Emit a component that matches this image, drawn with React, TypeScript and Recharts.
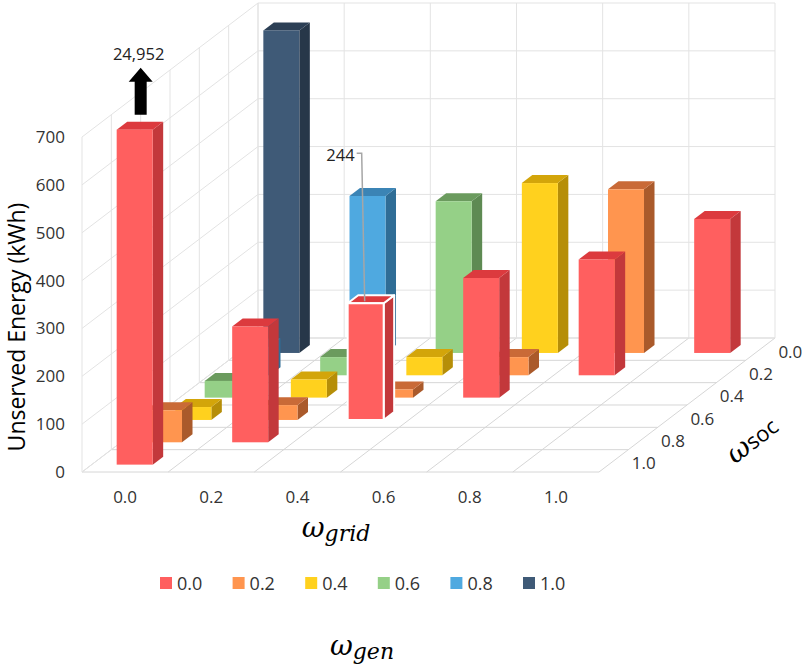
import { Bar, ComposedChart, Label, Legend, ReferenceDot, ReferenceLine, XAxis, YAxis } from 'recharts'

// ω_grid categories (front axis), ω_SOC levels (depth axis), ω_gen levels (colour series)
const GRID_LEVELS = ['0.0', '0.2', '0.4', '0.6', '0.8', '1.0']
const SOC_LEVELS = ['0.0', '0.2', '0.4', '0.6', '0.8', '1.0']
const GEN_LEVELS = ['0.0', '0.2', '0.4', '0.6', '0.8', '1.0']

// unserved energy (kWh) per ω_gen series, indexed by ω_grid; ω_SOC = 1 - ω_grid - ω_gen
const GEN_00 = [24952, 242, 244, 250, 242, 280]
const GEN_02 = [67, 31, 17, 38, 342]
const GEN_04 = [27, 38, 38, 355]
const GEN_06 = [35, 38, 317]
const GEN_08 = [60, 328]
const GEN_10 = [674]
const SERIES = [GEN_00, GEN_02, GEN_04, GEN_06, GEN_08, GEN_10]

const Y_TICKS = [0, 100, 200, 300, 400, 500, 600, 700]
const Y_CAP = 700
// bar with a value call-out (ω_gen 0.0, ω_grid 0.4)
const CALLOUT_GEN = 0
const CALLOUT_GRID = 2

const COLORS = [
  { front: '#ff5f5f', top: '#dc3a3e', side: '#c3383b' },
  { front: '#ff954f', top: '#c96a37', side: '#aa5a2b' },
  { front: '#ffd11e', top: '#d3a50a', side: '#b68e08' },
  { front: '#95d087', top: '#6b9b5e', side: '#5e8a53' },
  { front: '#4fa9e0', top: '#3b84b5', side: '#2f6d96' },
  { front: '#3f5a77', top: '#2c3f55', side: '#273749' },
]

// oblique projection: one depth row moves this much in column / kWh units
const COLS = GRID_LEVELS.length
const ROWS = SOC_LEVELS.length
const ROW_DX = 0.3404
const ROW_DY = 46.67
const X_MAX = COLS + ROWS * ROW_DX
const Y_MAX = Y_CAP + ROWS * ROW_DY
const BAR_FRONT = 0.33
const BAR_W = 36
const BAR_DX = 10.5
const BAR_DY = 8

const FONT = '"Open Sans", sans-serif'
const MATH = '"DejaVu Serif", serif'
const TEXT = '#333333'

const proj = (col: number, depth: number, val: number) => ({
  x: col + depth * ROW_DX,
  y: val + depth * ROW_DY,
})

const data = GRID_LEVELS.map((g, gi) => ({ grid: g, gi, pos: gi + 0.5 }))

// floor, back wall and left wall grid lines
const segments: { a: { x: number; y: number }; b: { x: number; y: number }; floor: boolean }[] = []
for (let k = 0; k <= ROWS; k++) segments.push({ a: proj(0, k, 0), b: proj(COLS, k, 0), floor: true })
for (let c = 0; c <= COLS; c++) segments.push({ a: proj(c, 0, 0), b: proj(c, ROWS, 0), floor: true })
Y_TICKS.forEach((v) => {
  segments.push({ a: proj(0, ROWS, v), b: proj(COLS, ROWS, v), floor: false })
  segments.push({ a: proj(0, 0, v), b: proj(0, ROWS, v), floor: false })
})
for (let c = 0; c <= COLS; c++) segments.push({ a: proj(c, ROWS, 0), b: proj(c, ROWS, Y_CAP), floor: false })
for (let k = 0; k <= ROWS; k++) segments.push({ a: proj(0, k, 0), b: proj(0, k, Y_CAP), floor: false })

// rows drawn back (ω_SOC 0.0) to front (ω_SOC 1.0); row index counts from the front
const DEPTH_ORDER = [5, 4, 3, 2, 1, 0]

function valueAt(row: number, gi: number) {
  const s = SERIES[row - gi]
  return s ? s[gi] : undefined
}

function Box3D(props: any) {
  const { x, y, width, height, payload, row } = props
  const gi = payload.gi
  const gen = row - gi
  const raw = valueAt(row, gi)
  if (raw == null || !(height > 0)) return null
  const c = COLORS[gen]
  const hi = gen === CALLOUT_GEN && gi === CALLOUT_GRID
  const st = hi ? { stroke: '#ffffff', strokeWidth: 2, strokeLinejoin: 'round' as const } : { stroke: 'none' }
  const r = x + width
  const b = y + height
  const top = `${x},${y} ${x + BAR_DX},${y - BAR_DY} ${r + BAR_DX},${y - BAR_DY} ${r},${y}`
  const side = `${r},${y} ${r + BAR_DX},${y - BAR_DY} ${r + BAR_DX},${b - BAR_DY} ${r},${b}`
  const cx = x + width / 2
  const ax = cx + 6
  return (
    <g>
      <polygon points={side} fill={c.side} {...st} />
      <polygon points={top} fill={c.top} {...st} />
      <rect x={x} y={y} width={width} height={height} fill={c.front} {...st} />
      {raw > Y_CAP && (
        <g>
          <polygon
            points={`${ax - 6},${y - 15} ${ax - 6},${y - 48} ${ax - 12},${y - 48} ${ax},${y - 62} ${ax + 12},${y - 48} ${ax + 6},${y - 48} ${ax + 6},${y - 15}`}
            fill="#000"
          />
          <text x={ax - 2} y={y - 70} textAnchor="middle" fontSize={16.5} fill="#222" fontFamily={FONT}>
            {raw.toLocaleString('en-US')}
          </text>
        </g>
      )}
      {hi && (
        <g>
          <polyline
            points={`${cx - 9},${y - 150} ${cx - 4},${y - 150} ${cx - 1},${y - 2}`}
            fill="none"
            stroke="#a6a6a6"
            strokeWidth={1.5}
          />
          <text x={cx - 11} y={y - 142} textAnchor="end" fontSize={16.5} fill="#222" fontFamily={FONT}>
            {raw.toLocaleString('en-US')}
          </text>
        </g>
      )}
    </g>
  )
}

function LegendBox() {
  return (
    <svg width={803} height={100} style={{ display: 'block' }}>
      {GEN_LEVELS.map((g, i) => (
        <g key={g}>
          <rect x={160 + i * 72.6} y={12} width={12} height={12} fill={COLORS[i].front} />
          <text x={177 + i * 72.6} y={18} dominantBaseline="central" fontSize={18} fill={TEXT} fontFamily={FONT}>
            {g}
          </text>
        </g>
      ))}
      <text x={362} y={90} textAnchor="middle" fontFamily={MATH} fontStyle="italic" fill="#000">
        <tspan fontSize={28}>ω</tspan>
        <tspan fontSize={22} dy={4}>gen</tspan>
      </text>
    </svg>
  )
}

export default function App() {
  return (
    <div style={{ position: 'absolute', left: 0, top: 0, width: 803, height: 667, fontFamily: FONT }}>
      <ComposedChart width={803} height={667} data={data} margin={{ top: 3, right: 28, bottom: 165, left: 22 }}>
        <XAxis
          xAxisId="grid"
          dataKey="pos"
          type="number"
          domain={[0, X_MAX]}
          allowDataOverflow
          ticks={GRID_LEVELS.map((_, i) => i + 0.5)}
          tickFormatter={(v) => GRID_LEVELS[Math.floor(v)]}
          axisLine={false}
          tickLine={false}
          tickSize={0}
          tickMargin={19}
          height={30}
          tick={{ fontSize: 17, fill: TEXT }}
        >
          <Label
            content={() => (
              <text x={336} y={537} textAnchor="middle" fontFamily={MATH} fontStyle="italic" fill="#000">
                <tspan fontSize={28}>ω</tspan>
                <tspan fontSize={22} dy={4}>grid</tspan>
              </text>
            )}
          />
        </XAxis>
        <YAxis
          yAxisId="val"
          type="number"
          domain={[0, Y_MAX]}
          allowDataOverflow
          ticks={Y_TICKS}
          axisLine={false}
          tickLine={false}
          tickSize={0}
          tickMargin={17}
          width={60}
          tick={{ fontSize: 17, fill: TEXT }}
        >
          <Label
            content={() => (
              <text
                transform="translate(16,327) rotate(-90)"
                textAnchor="middle"
                dominantBaseline="central"
                fontSize={23}
                fill="#000"
                fontFamily={FONT}
              >
                Unserved Energy (kWh)
              </text>
            )}
          />
        </YAxis>
        {DEPTH_ORDER.map((r) => (
          <XAxis
            key={`x${r}`}
            xAxisId={`x${r}`}
            dataKey="pos"
            type="number"
            hide
            allowDataOverflow
            domain={[-(r + BAR_FRONT) * ROW_DX, X_MAX - (r + BAR_FRONT) * ROW_DX]}
          />
        ))}
        {DEPTH_ORDER.map((r) => (
          <YAxis
            key={`y${r}`}
            yAxisId={`y${r}`}
            type="number"
            hide
            allowDataOverflow
            domain={[-(r + BAR_FRONT) * ROW_DY, Y_MAX - (r + BAR_FRONT) * ROW_DY]}
          />
        ))}

        {segments.map((s, i) => (
          <ReferenceLine
            key={`seg${i}`}
            xAxisId="grid"
            yAxisId="val"
            segment={[s.a, s.b]}
            stroke={s.floor ? '#d6d6d6' : '#e3e3e3'}
            strokeWidth={1}
            ifOverflow="visible"
            zIndex={-100}
          />
        ))}

        {DEPTH_ORDER.map((r) => (
          <Bar
            key={`row${r}`}
            name={`ω_SOC ${SOC_LEVELS[ROWS - 1 - r]}`}
            xAxisId={`x${r}`}
            yAxisId={`y${r}`}
            dataKey={(d: any) => {
              const v = valueAt(r, d.gi)
              return v == null ? null : Math.min(v, Y_CAP)
            }}
            barSize={BAR_W}
            isAnimationActive={false}
            shape={(p: any) => <Box3D {...p} row={r} />}
          />
        ))}

        {DEPTH_ORDER.map((r) => {
          const p = proj(COLS, r + 0.5, 0)
          return (
            <ReferenceDot
              key={`soc${r}`}
              xAxisId="grid"
              yAxisId="val"
              x={p.x}
              y={p.y}
              ifOverflow="visible"
              shape={(q: any) => (
                <text
                  x={q.cx + 30}
                  y={q.cy + 2}
                  textAnchor="middle"
                  dominantBaseline="central"
                  fontSize={17}
                  fill={TEXT}
                  fontFamily={FONT}
                >
                  {SOC_LEVELS[ROWS - 1 - r]}
                </text>
              )}
            />
          )
        })}

        <Legend
          layout="vertical"
          align="center"
          verticalAlign="middle"
          wrapperStyle={{ left: 0, top: 565, width: 803, height: 100 }}
          content={() => <LegendBox />}
        />
      </ComposedChart>
      <div
        style={{
          position: 'absolute',
          left: 720,
          top: 420,
          width: 64,
          height: 40,
          transform: 'rotate(-38deg)',
          transformOrigin: '32px 20px',
          whiteSpace: 'nowrap',
          lineHeight: '40px',
          color: '#000',
          textAlign: 'center',
        }}
      >
        <span style={{ fontFamily: MATH, fontStyle: 'italic', fontSize: 28 }}>ω</span>
        <span style={{ fontFamily: FONT, fontSize: 22 }}>soc</span>
      </div>
    </div>
  )
}
